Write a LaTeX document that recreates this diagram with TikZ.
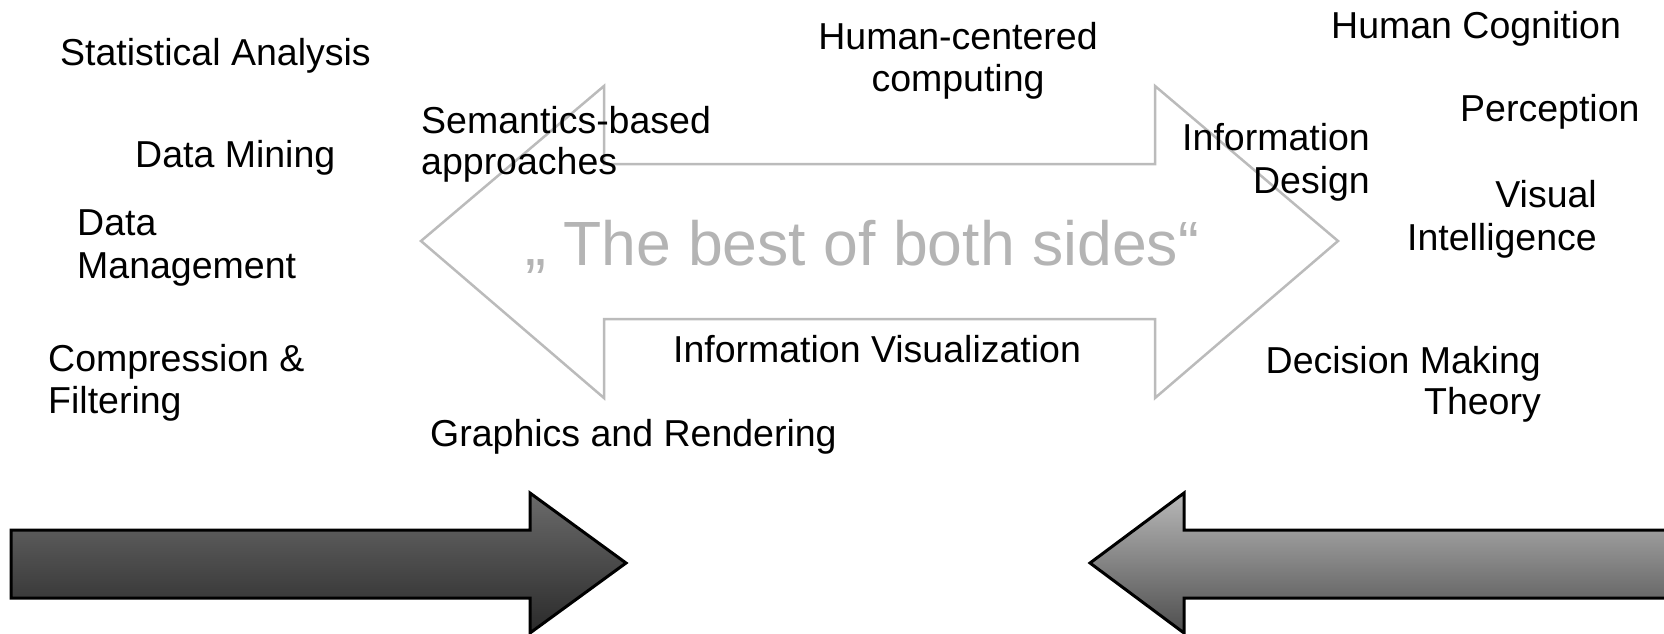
\documentclass[tikz,border=0pt]{standalone}
\usepackage{fontspec}
\setmainfont{Liberation Sans}
\definecolor{outlinegray}{HTML}{BBBBBB}
\definecolor{mottogray}{HTML}{B4B4B4}
\definecolor{darktop}{HTML}{6B6B6B}
\definecolor{darkbottom}{HTML}{2A2A2A}
\definecolor{lighttop}{HTML}{B8B8B8}
\definecolor{lightbottom}{HTML}{4E4E4E}
\begin{document}
\begin{tikzpicture}[x=1pt,y=-1pt,
  lbl/.style={inner sep=0pt, font=\fontsize{37.5}{42}\selectfont, text=black},
  motto/.style={inner sep=0pt, font=\fontsize{62.5}{70}\selectfont, text=mottogray},
  bothways/.style={draw=outlinegray, line width=2.5pt, line join=miter},
  bigarrow/.style={draw=black, line width=3pt, line join=miter}]
\useasboundingbox (0,0) rectangle (1664,634);
\clip (0,0) rectangle (1664,634);

% outlined double-headed arrow in the middle
\path[bothways] (421,241) -- (604,86) -- (604,164) -- (1155,164) -- (1155,86)
  -- (1338,241) -- (1155,398) -- (1155,319) -- (604,319) -- (604,398) -- cycle;

% shaded arrows pointing toward each other at the bottom
\shadedraw[bigarrow, top color=darktop, bottom color=darkbottom]
  (11,530) -- (530,530) -- (530,493) -- (626,563) -- (530,633) -- (530,598) -- (11,598) -- cycle;
\shadedraw[bigarrow, top color=lighttop, bottom color=lightbottom]
  (1700,530) -- (1184,530) -- (1184,493) -- (1090,563) -- (1184,633) -- (1184,598) -- (1700,598) -- cycle;

% motto
\node[motto, anchor=base] (motto) at (862,265) {„ The best of both sides“};

% left-hand topics
\node[lbl, anchor=base west] (stat) at (60,66) {Statistical Analysis};
\node[lbl, anchor=base west] (mining) at (135,167) {Data Mining};
\node[lbl, anchor=base west] (mgmt1) at (77,235) {Data};
\node[lbl, anchor=base west] (mgmt2) at (77,278) {Management};
\node[lbl, anchor=base west] (comp1) at (48,371) {Compression \&};
\node[lbl, anchor=base west] (comp2) at (48,413) {Filtering};

% topics inside and around the double arrow
\node[lbl, anchor=base west] (sem1) at (421,133) {Semantics-based};
\node[lbl, anchor=base west] (sem2) at (421,174) {approaches};
\node[lbl, anchor=base west] (gfx) at (430,446) {Graphics and Rendering};
\node[lbl, anchor=base] (hcc1) at (958,49) {Human-centered};
\node[lbl, anchor=base] (hcc2) at (958,92) {computing};
\node[lbl, anchor=base] (infovis) at (877,362) {Information Visualization};

% right-hand topics
\node[lbl, anchor=base west] (cog) at (1331,39) {Human Cognition};
\node[lbl, anchor=base west] (perc) at (1460,121) {Perception};
\node[lbl, anchor=base east] (des1) at (1370,150) {Information};
\node[lbl, anchor=base east] (des2) at (1370,193) {Design};
\node[lbl, anchor=base east] (vis1) at (1597,207) {Visual};
\node[lbl, anchor=base east] (vis2) at (1597,250) {Intelligence};
\node[lbl, anchor=base east] (dec1) at (1541,373) {Decision Making};
\node[lbl, anchor=base east] (dec2) at (1541,414) {Theory};
\end{tikzpicture}
\end{document}
